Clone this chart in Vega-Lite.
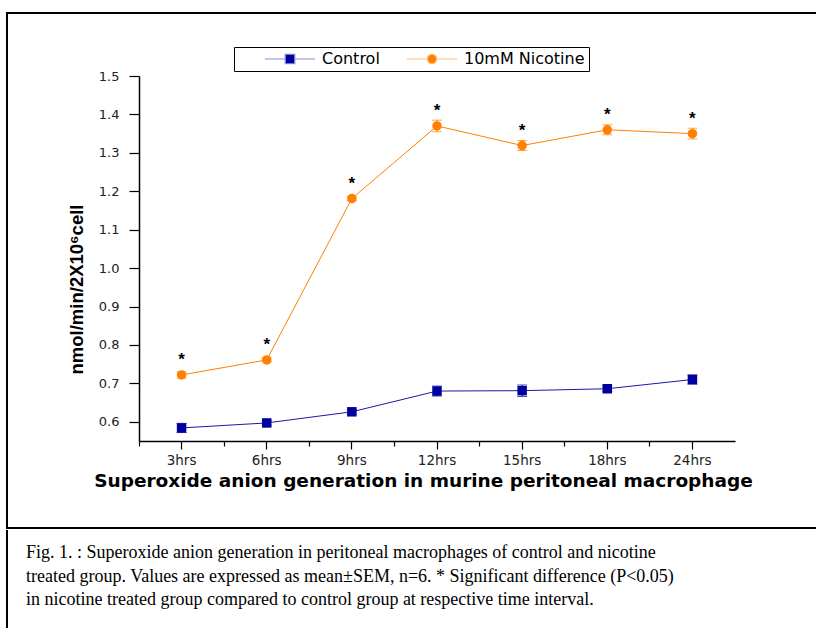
{
  "$schema": "https://vega.github.io/schema/vega-lite/v6.json",
  "padding": {"left": 6, "top": 12, "right": 0, "bottom": 0},
  "background": "white",
  "spacing": 0,
  "config": {"view": {"stroke": null}, "font": "DejaVu Sans"},
  "vconcat": [
    {
      "width": 809,
      "height": 515,
      "view": {"stroke": "black", "strokeWidth": 2, "strokeDash": [809, 515, 1324]},
      "data": {
        "values": [
          {"time": "3hrs", "group": "Control", "mean": 0.584, "sem": 0.012},
          {"time": "6hrs", "group": "Control", "mean": 0.597, "sem": 0.006},
          {"time": "9hrs", "group": "Control", "mean": 0.626, "sem": 0.006},
          {"time": "12hrs", "group": "Control", "mean": 0.68, "sem": 0.013},
          {"time": "15hrs", "group": "Control", "mean": 0.681, "sem": 0.015},
          {"time": "18hrs", "group": "Control", "mean": 0.686, "sem": 0.007},
          {"time": "24hrs", "group": "Control", "mean": 0.71, "sem": 0.012},
          {"time": "3hrs", "group": "10mM Nicotine", "mean": 0.722, "sem": 0.008, "sig": "*"},
          {"time": "6hrs", "group": "10mM Nicotine", "mean": 0.761, "sem": 0.005, "sig": "*"},
          {"time": "9hrs", "group": "10mM Nicotine", "mean": 1.181, "sem": 0.005, "sig": "*"},
          {"time": "12hrs", "group": "10mM Nicotine", "mean": 1.37, "sem": 0.015, "sig": "*"},
          {"time": "15hrs", "group": "10mM Nicotine", "mean": 1.319, "sem": 0.013, "sig": "*"},
          {"time": "18hrs", "group": "10mM Nicotine", "mean": 1.36, "sem": 0.013, "sig": "*"},
          {"time": "24hrs", "group": "10mM Nicotine", "mean": 1.35, "sem": 0.014, "sig": "*"}
        ]
      },
      "resolve": {"axis": {"x": "independent"}},
      "layer": [
        {
          "transform": [{"filter": "datum.group == 'Control'"}],
          "mark": {"type": "line", "strokeWidth": 1, "color": "#1a1aa8"},
          "encoding": {
            "x": {
              "field": "time", "type": "nominal", "bandPosition": 0.5,
              "scale": {"type": "band", "domain": ["3hrs", "6hrs", "9hrs", "12hrs", "15hrs", "18hrs", "24hrs"], "range": [132, 728], "paddingInner": 0, "paddingOuter": 0},
              "axis": {
                "orient": "bottom", "offset": -87, "bandPosition": 0.5, "tickSize": 8, "tickColor": "black", "tickWidth": 1.2,
                "domainColor": "black", "domainWidth": 1.5, "grid": false,
                "labelFont": "DejaVu Sans", "labelFontSize": 13.5, "labelColor": "#222", "labelPadding": 4, "labelAngle": 0,
                "title": "Superoxide anion generation in murine peritoneal macrophage",
                "titleFont": "DejaVu Sans", "titleFontSize": 18.5, "titleFontWeight": "bold", "titleColor": "black",
                "titleX": 416, "titleY": 45, "titleBaseline": "alphabetic", "titleAlign": "center"
              }
            },
            "y": {
              "field": "mean", "type": "quantitative", "title": "nmol/min/2X10⁶cell",
              "scale": {"domain": [0.55, 1.5], "range": [428, 63], "zero": false, "nice": false},
              "axis": {
                "values": [0.6, 0.65, 0.7, 0.75, 0.8, 0.85, 0.9, 0.95, 1.0, 1.05, 1.1, 1.15, 1.2, 1.25, 1.3, 1.35, 1.4, 1.45, 1.5],
                "labelExpr": "round(datum.value*20) % 2 == 0 ? format(datum.value, '.1f') : ''",
                "tickSize": {"condition": {"test": "round(datum.value*20) % 2 == 0", "value": 10}, "value": 6},
                "offset": -132, "domainColor": "black", "domainWidth": 1.5, "tickColor": "black", "tickWidth": 1.2, "grid": false,
                "labelFont": "DejaVu Sans", "labelFontSize": 13, "labelColor": "#222", "labelPadding": 10,
                "titleFont": "Liberation Sans", "titleFontSize": 18.5, "titleFontWeight": "bold", "titleColor": "black",
                "titleAngle": -90, "titleX": -63, "titleY": 276, "titleAlign": "center", "titleBaseline": "middle"
              }
            }
          }
        },
        {
          "transform": [{"filter": "datum.group == '10mM Nicotine'"}],
          "mark": {"type": "line", "strokeWidth": 1, "color": "#FF8000"},
          "encoding": {
            "x": {"field": "time", "type": "nominal", "bandPosition": 0.5, "axis": null},
            "y": {"field": "mean", "type": "quantitative", "title": "nmol/min/2X10⁶cell"}
          }
        },
        {
          "transform": [{"filter": "datum.group == 'Control'"}],
          "mark": {"type": "errorbar", "ticks": {"size": 10}, "thickness": 1, "color": "#0000A0"},
          "encoding": {
            "x": {"field": "time", "type": "nominal", "bandPosition": 0.5, "axis": null},
            "y": {"field": "mean", "type": "quantitative", "title": "nmol/min/2X10⁶cell"},
            "yError": {"field": "sem"}
          }
        },
        {
          "transform": [{"filter": "datum.group == '10mM Nicotine'"}],
          "mark": {"type": "errorbar", "ticks": {"size": 10}, "thickness": 1, "color": "#FF8000"},
          "encoding": {
            "x": {"field": "time", "type": "nominal", "bandPosition": 0.5, "axis": null},
            "y": {"field": "mean", "type": "quantitative", "title": "nmol/min/2X10⁶cell"},
            "yError": {"field": "sem"}
          }
        },
        {
          "transform": [{"filter": "datum.group == 'Control'"}],
          "mark": {"type": "point", "filled": true, "size": 90, "opacity": 1, "shape": "square", "color": "#0000A0"},
          "encoding": {
            "x": {"field": "time", "type": "nominal", "bandPosition": 0.5, "axis": null},
            "y": {"field": "mean", "type": "quantitative", "title": "nmol/min/2X10⁶cell"}
          }
        },
        {
          "transform": [{"filter": "datum.group == '10mM Nicotine'"}],
          "mark": {"type": "point", "filled": true, "size": 90, "opacity": 1, "shape": "circle", "color": "#FF8000"},
          "encoding": {
            "x": {"field": "time", "type": "nominal", "bandPosition": 0.5, "axis": null},
            "y": {"field": "mean", "type": "quantitative", "title": "nmol/min/2X10⁶cell"}
          }
        },
        {
          "mark": {"type": "point", "filled": true, "size": 90, "opacity": 1, "strokeWidth": 1.2, "clip": true},
          "encoding": {
            "x": {"field": "time", "type": "nominal", "bandPosition": 0.5, "axis": null},
            "y": {"field": "sem", "type": "quantitative", "title": "nmol/min/2X10⁶cell"},
            "color": {
              "field": "group", "type": "nominal",
              "scale": {"domain": ["Control", "10mM Nicotine"], "range": ["#0000A0", "#FF8000"]},
              "legend": {
                "orient": "none", "legendX": 227, "legendY": 34, "direction": "horizontal", "title": null,
                "strokeColor": "black", "padding": 4, "labelFont": "DejaVu Sans", "labelFontSize": 16, "labelColor": "black",
                "symbolOffset": 44, "labelOffset": 24, "columnPadding": -5, "symbolSize": 90, "symbolStrokeWidth": 1.2
              }
            },
            "stroke": {
              "field": "group", "type": "nominal",
              "scale": {"domain": ["Control", "10mM Nicotine"], "range": ["#8a8ae0", "#ffbf80"]},
              "legend": {
                "orient": "none", "legendX": 227, "legendY": 34, "direction": "horizontal", "title": null,
                "strokeColor": "black", "padding": 4, "labelFont": "DejaVu Sans", "labelFontSize": 16, "labelColor": "black",
                "symbolOffset": 44, "labelOffset": 24, "columnPadding": -5, "symbolSize": 90, "symbolStrokeWidth": 1.2
              }
            },
            "shape": {
              "field": "group", "type": "nominal",
              "scale": {"domain": ["Control", "10mM Nicotine"], "range": ["M-5.3,0H-1M1,0H5.3M-1,-1H1V1H-1Z", "M-5.3,0H-1M1,0H5.3M-1,0A1,1,0,1,0,1,0A1,1,0,1,0,-1,0Z"]},
              "legend": {
                "orient": "none", "legendX": 227, "legendY": 34, "direction": "horizontal", "title": null,
                "strokeColor": "black", "padding": 4, "labelFont": "DejaVu Sans", "labelFontSize": 16, "labelColor": "black",
                "symbolOffset": 44, "labelOffset": 24, "columnPadding": -5, "symbolSize": 90, "symbolStrokeWidth": 1.2
              }
            }
          }
        },
        {
          "transform": [{"filter": "datum.sig == '*'"}],
          "mark": {"type": "text", "dy": -10, "fontSize": 17, "font": "Liberation Sans", "fontWeight": "bold", "baseline": "alphabetic", "color": "black"},
          "encoding": {
            "x": {
              "field": "time", "type": "nominal", "bandPosition": 0.5,
              "axis": {"orient": "bottom", "offset": -87, "bandPosition": 0, "tickSize": 5, "tickColor": "black", "tickWidth": 1.2, "domain": false, "labels": false, "title": null, "grid": false}
            },
            "y": {"field": "mean", "type": "quantitative", "title": "nmol/min/2X10⁶cell"},
            "text": {"field": "sig"}
          }
        }
      ]
    },
    {
      "width": 809,
      "height": 100,
      "view": {"stroke": "black", "strokeWidth": 2, "strokeDash": [0, 1720, 102]},
      "data": {"values": []},
      "mark": {"type": "rule"},
      "encoding": {},
      "title": {
        "text": [
          "Fig. 1. : Superoxide anion generation in peritoneal macrophages of control and nicotine",
          "treated group. Values are expressed as mean±SEM, n=6. * Significant difference (P<0.05)",
          "in nicotine treated group compared to control group at respective time interval."
        ],
        "orient": "top", "anchor": "start", "frame": "group", "offset": -79,
        "font": "Liberation Serif", "fontSize": 18, "fontWeight": "normal", "color": "black",
        "lineHeight": 23.5, "baseline": "top", "dx": 19
      }
    }
  ]
}
